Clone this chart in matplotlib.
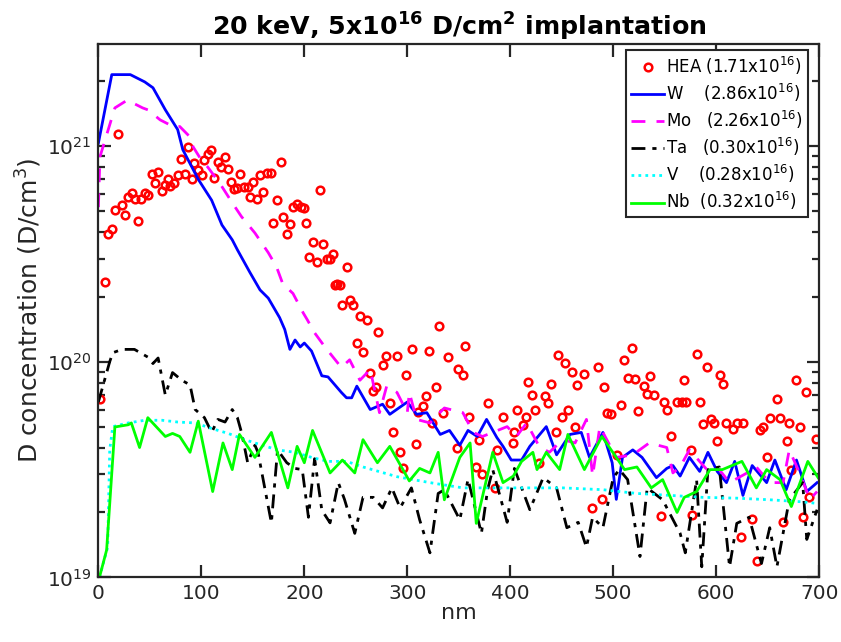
import matplotlib
matplotlib.use("Agg")
import matplotlib.pyplot as plt
from matplotlib.ticker import LogLocator, NullFormatter, FixedLocator

plt.rcParams['font.family'] = ['DejaVu Sans']
plt.rcParams['mathtext.default'] = 'regular'

# ---------------- data ----------------
hea_x = [1.5, 6, 9, 13, 16, 19, 23, 26, 29, 32.5, 35.4, 38, 41, 45, 48, 52, 55, 58, 62, 65,
         67.5, 70, 73, 77, 80, 84, 87, 91, 93, 97, 100.5, 103, 106, 109, 112, 116, 119, 123,
         126, 129, 131.5, 135, 138, 141, 145, 147, 150, 154, 157, 160, 163.5, 167.5, 169.4,
         173, 177, 179, 183, 186, 189, 193, 196.6, 199.5, 202, 205, 208, 212, 215, 218, 222,
         225, 228, 230, 231.5, 234.5, 237, 241, 244, 247, 251, 254, 257, 261, 263.6, 266.5,
         270, 272, 276, 279, 283, 286, 290, 293, 295.6, 298.5, 305, 308, 310, 315, 318, 321,
         324, 328, 331, 334.5, 340, 348, 349, 354, 356, 360, 367, 369.5, 373, 378, 385, 387,
         393, 402.5, 404, 407, 412, 415, 417, 421, 424, 428, 433.5, 437, 440, 444, 446, 450,
         453, 456, 460, 463, 465, 471.5, 479, 485, 489, 491, 494, 497.6, 504, 508, 510, 514,
         518, 521, 524, 530, 532.5, 536, 540, 546, 549, 552, 556, 562, 566.5, 568.5, 571, 576,
         577, 581, 584, 587, 591, 595, 598, 600.5, 604, 607, 610, 616, 620, 624, 626, 634.5,
         640, 643, 645, 649, 652, 659, 662, 665, 669, 671, 673, 678, 681, 684.5, 687, 690,
         696.6]
hea_y = [6.7e19, 2.35e20, 3.9e20, 4.1e20, 5.05e20, 1.14e21, 5.3e20, 4.8e20, 5.8e20, 6.05e20,
         5.7e20, 4.5e20, 5.7e20, 6.05e20, 5.9e20, 7.4e20, 6.7e20, 7.6e20, 6.2e20, 6.6e20,
         7.0e20, 6.5e20, 6.7e20, 7.3e20, 8.7e20, 7.4e20, 9.9e20, 7.0e20, 8.3e20, 7.7e20,
         7.3e20, 8.6e20, 9.2e20, 9.6e20, 7.1e20, 8.4e20, 8.0e20, 8.9e20, 7.8e20, 6.8e20,
         6.3e20, 6.4e20, 7.4e20, 6.45e20, 6.45e20, 5.8e20, 6.8e20, 5.7e20, 7.3e20, 6.1e20,
         7.5e20, 7.5e20, 4.4e20, 5.6e20, 8.4e20, 4.7e20, 3.9e20, 4.35e20, 5.2e20, 5.4e20,
         5.2e20, 5.15e20, 4.4e20, 3.05e20, 3.6e20, 2.9e20, 6.25e20, 3.5e20, 3.0e20, 3.0e20,
         3.15e20, 2.27e20, 2.3e20, 2.27e20, 1.83e20, 2.75e20, 1.94e20, 1.83e20, 1.22e20,
         1.63e20, 1.11e20, 1.56e20, 8.9e19, 7.3e19, 7.6e19, 1.37e20, 9.7e19, 1.06e20, 6.4e19,
         4.7e19, 1.06e20, 3.8e19, 3.2e19, 8.7e19, 1.15e20, 4.15e19, 5.85e19, 6.2e19, 6.9e19,
         1.12e20, 5.2e19, 7.6e19, 1.47e20, 5.8e19, 1.05e20, 4.0e19, 9.25e19, 8.7e19, 1.18e20,
         5.55e19, 3.25e19, 4.35e19, 3.0e19, 6.4e19, 2.6e19, 3.9e19, 5.55e19, 4.2e19, 4.7e19,
         6.0e19, 5.1e19, 5.55e19, 8.05e19, 7.0e19, 6.0e19, 3.4e19, 6.9e19, 6.4e19, 7.9e19,
         4.7e19, 1.07e20, 5.55e19, 9.9e19, 6.0e19, 9.0e19, 5.0e19, 7.8e19, 8.8e19, 2.1e19,
         9.4e19, 2.3e19, 7.6e19, 5.8e19, 5.7e19, 3.7e19, 6.3e19, 1.02e20, 8.4e19, 1.16e20,
         8.3e19, 5.9e19, 7.7e19, 7.1e19, 8.6e19, 7.0e19, 1.93e19, 6.5e19, 6.0e19, 4.5e19,
         6.5e19, 6.5e19, 8.2e19, 6.5e19, 3.9e19, 1.95e19, 1.09e20, 6.5e19, 5.15e19, 9.45e19,
         5.4e19, 5.2e19, 4.3e19, 8.7e19, 7.9e19, 5.2e19, 4.9e19, 5.2e19, 1.54e19, 5.2e19,
         1.86e19, 1.19e19, 4.8e19, 5.0e19, 3.6e19, 5.5e19, 6.7e19, 5.5e19, 1.8e19, 4.3e19,
         5.2e19, 3.15e19, 8.2e19, 5.0e19, 1.9e19, 7.2e19, 2.36e19, 4.4e19]

w_x = [0, 13, 31, 45, 53, 65, 77, 82, 97, 110, 120, 130, 135, 147, 157, 165, 176, 181, 186,
       191, 196, 200, 207, 217, 223, 236, 241, 246, 251, 264, 276, 283, 300, 309, 319, 332,
       341, 351, 359, 368, 377, 387, 393, 401, 411, 419, 435, 445, 458, 469, 477, 490, 499,
       503, 509, 519, 528, 542, 552, 558, 565, 574, 584, 592, 601, 610, 618, 626, 635, 649,
       657, 668, 678, 688, 698]
w_y = [1.03e21, 2.14e21, 2.14e21, 1.98e21, 1.86e21, 1.47e21, 1.19e21, 9.6e20, 7.0e20, 5.6e20,
       4.3e20, 3.67e20, 3.3e20, 2.6e20, 2.15e20, 1.97e20, 1.6e20, 1.41e20, 1.14e20, 1.26e20,
       1.17e20, 1.22e20, 1.12e20, 8.6e19, 8.5e19, 7.2e19, 6.8e19, 6.8e19, 7.7e19, 6.0e19,
       6.35e19, 5.7e19, 6.5e19, 5.7e19, 5.8e19, 4.6e19, 4.8e19, 4.1e19, 4.8e19, 4.5e19,
       5.4e19, 4.45e19, 4.05e19, 3.5e19, 3.5e19, 4.05e19, 5.0e19, 3.7e19, 4.6e19, 4.7e19,
       3.6e19, 4.7e19, 3.4e19, 2.3e19, 3.6e19, 3.9e19, 3.6e19, 2.9e19, 3.2e19, 3.3e19,
       2.95e19, 3.6e19, 3.1e19, 3.8e19, 3.1e19, 2.75e19, 3.45e19, 2.4e19, 3.3e19, 2.75e19,
       3.5e19, 2.55e19, 3.5e19, 2.5e19, 2.75e19]

mo_x = [0, 1.5, 16, 28, 43, 48, 60, 74, 79, 89, 92, 100, 106, 118, 130, 139, 152, 165, 173,
        179, 189, 199, 203, 210, 220, 230, 236, 244, 254, 264, 273, 280, 290, 300, 302, 309,
        322, 336, 354, 364, 373, 397, 406, 416, 428, 438, 451, 463, 474, 480, 487, 503, 519,
        535, 552, 558, 565, 574, 591, 603, 613, 630, 639, 652, 665, 671, 681, 691, 698]
mo_y = [5.2e20, 8.9e20, 1.5e21, 1.63e21, 1.5e21, 1.47e21, 1.32e21, 1.22e21, 1.23e21, 1.1e21,
        9.9e20, 8.6e20, 8.0e20, 6.7e20, 5.45e20, 4.7e20, 3.95e20, 3.2e20, 2.75e20, 2.3e20,
        2.07e20, 1.68e20, 1.56e20, 1.36e20, 1.17e20, 1.02e20, 9.4e19, 1.02e20, 8.2e19, 9.2e19,
        5.8e19, 7.7e19, 7.2e19, 5.8e19, 7.2e19, 5.4e19, 5.2e19, 6.1e19, 5.8e19, 4.7e19, 4.5e19,
        5.0e19, 4.5e19, 5.2e19, 4.05e19, 3.8e19, 4.35e19, 4.2e19, 5.4e19, 2.95e19, 5.0e19,
        3.6e19, 3.7e19, 4.2e19, 4.0e19, 3.05e19, 3.25e19, 3.9e19, 3.16e19, 3.16e19, 2.75e19,
        3.05e19, 3.25e19, 2.75e19, 2.75e19, 3.9e19, 3.05e19, 2.3e19, 2.5e19]

ta_x = [0, 11, 14, 23, 35, 48, 53, 58, 65, 72, 81, 89, 94, 103, 110, 116, 123, 130, 135, 139,
        145, 152, 155, 168, 174, 183, 191, 198, 204, 210, 217, 225, 233, 239, 249, 257, 267,
        276, 285, 293, 304, 312, 322, 330, 336, 351, 359, 372, 378, 383, 397, 404, 419, 432,
        445, 455, 466, 474, 480, 490, 500, 506, 514, 526, 533, 548, 565, 570, 581, 586, 592,
        603, 613, 620, 632, 644, 652, 659, 671, 684, 688, 698]
ta_y = [6.5e19, 1.0e20, 1.1e20, 1.14e20, 1.14e20, 1.05e20, 9.8e19, 1.04e20, 7.0e19, 8.9e19,
        8.2e19, 7.8e19, 6.0e19, 5.5e19, 4.7e19, 5.4e19, 5.25e19, 6.0e19, 5.5e19, 4.7e19,
        3.4e19, 4.1e19, 3.8e19, 1.79e19, 3.9e19, 3.4e19, 3.2e19, 3.16e19, 1.9e19, 3.55e19,
        2.05e19, 1.79e19, 2.75e19, 2.3e19, 1.6e19, 2.35e19, 2.35e19, 2.1e19, 2.6e19, 2.1e19,
        2.6e19, 1.85e19, 1.3e19, 2.45e19, 2.55e19, 1.85e19, 2.85e19, 1.6e19, 2.55e19, 3.16e19,
        1.8e19, 3.2e19, 2.06e19, 2.9e19, 2.6e19, 1.7e19, 1.8e19, 1.38e19, 1.9e19, 1.7e19,
        2.9e19, 3.16e19, 2.84e19, 1.25e19, 2.6e19, 2.29e19, 1.6e19, 1.3e19, 2.84e19, 1.12e19,
        3.16e19, 3.25e19, 1.12e19, 1.78e19, 1.9e19, 1.16e19, 1.7e19, 1.12e19, 2.29e19,
        2.75e19, 1.5e19, 2.06e19]

v_x = [1, 9, 11, 14, 29, 45, 62, 77, 94, 110, 126, 142, 159, 174, 191, 207, 223, 241, 257,
       290, 322, 354, 387, 419, 451, 490, 523, 555, 587, 620, 652, 684, 699]
v_y = [1.0e19, 1.38e19, 3.9e19, 5.0e19, 5.2e19, 5.35e19, 5.35e19, 5.25e19, 5.2e19, 4.9e19,
       4.65e19, 4.35e19, 4.1e19, 3.9e19, 3.8e19, 3.6e19, 3.45e19, 3.45e19, 3.25e19, 2.93e19,
       2.75e19, 2.6e19, 2.6e19, 2.6e19, 2.6e19, 2.55e19, 2.45e19, 2.4e19, 2.35e19, 2.33e19,
       2.29e19, 2.24e19, 2.2e19]

nb_x = [1, 8, 16, 29, 32, 40, 48, 65, 72, 79, 89, 97, 111, 121, 130, 137, 152, 168, 184, 193,
        200, 208, 225, 237, 249, 257, 271, 283, 302, 312, 322, 330, 336, 351, 361, 367, 383,
        393, 403, 411, 422, 426, 435, 448, 456, 472, 489, 503, 511, 523, 537, 548, 562, 569,
        581, 594, 606, 625, 639, 649, 662, 673, 689, 699]
nb_y = [1.0e19, 1.34e19, 4.98e19, 5.1e19, 5.2e19, 4.0e19, 5.5e19, 4.5e19, 4.65e19, 4.5e19,
        3.8e19, 5.3e19, 2.5e19, 4.2e19, 3.16e19, 4.6e19, 3.6e19, 4.7e19, 2.6e19, 4.05e19,
        3.4e19, 4.8e19, 3.05e19, 3.5e19, 3.05e19, 4.35e19, 3.4e19, 4.05e19, 2.8e19, 3.2e19,
        3.05e19, 3.8e19, 2.29e19, 3.6e19, 4.2e19, 1.78e19, 3.8e19, 2.75e19, 2.95e19, 3.45e19,
        3.8e19, 3.16e19, 3.8e19, 3.16e19, 4.6e19, 3.16e19, 4.5e19, 3.6e19, 3.16e19, 3.25e19,
        2.6e19, 2.84e19, 2.0e19, 2.35e19, 2.5e19, 3.16e19, 3.16e19, 3.45e19, 2.6e19, 3.16e19,
        2.84e19, 2.13e19, 3.45e19, 2.9e19]

labels = ['HEA (1.71x10$^{16}$)', 'W    (2.86x10$^{16}$)', 'Mo   (2.26x10$^{16}$)',
          'Ta   (0.30x10$^{16}$)', 'V    (0.28x10$^{16}$)', 'Nb  (0.32x10$^{16}$)']
x_ticks = [0, 100, 200, 300, 400, 500, 600, 700]

# ---------------- figure ----------------
dark = '#262626'
fig = plt.figure(figsize=(8.41, 6.42), dpi=100)
ax = fig.add_axes([0.117, 0.1006, 0.857, 0.831])

ax.plot(hea_x, hea_y, linestyle='none', marker='o', markersize=5.5, markerfacecolor='none',
        markeredgecolor='red', markeredgewidth=1.8, label=labels[0])
ax.plot(w_x, w_y, color='blue', lw=2.0, label=labels[1])
ax.plot(mo_x, mo_y, color='magenta', lw=2.0, linestyle=(0, (5, 4)), label=labels[2])
ax.plot(ta_x, ta_y, color='black', lw=2.0, linestyle=(0, (5, 2.5, 1.5, 2.5)), label=labels[3])
ax.plot(v_x, v_y, color='cyan', lw=2.0, linestyle=(0, (1, 1.5)), label=labels[4])
ax.plot(nb_x, nb_y, color='#00ff00', lw=2.0, label=labels[5])

ax.set_yscale('log')
ax.set_xlim(0, 700)
ax.set_ylim(1e19, 2.97e21)
ax.xaxis.set_major_locator(FixedLocator(x_ticks))
ax.yaxis.set_major_locator(LogLocator(base=10, numticks=10))
ax.yaxis.set_minor_locator(LogLocator(base=10, subs=range(2, 10), numticks=20))
ax.yaxis.set_minor_formatter(NullFormatter())

for s in ax.spines.values():
    s.set_linewidth(1.6)
    s.set_color(dark)
ax.tick_params(which='both', direction='in', top=True, right=True, colors=dark,
               labelsize=14.5, width=1.6)
ax.tick_params(which='major', length=9, pad=5)
ax.tick_params(which='minor', length=5)

ax.set_title('20 keV, 5x10$^{16}$ D/cm$^2$ implantation', fontsize=18.2, fontweight='bold',
             color='black', pad=6)
ax.set_xlabel('nm', fontsize=16, color=dark, labelpad=0)
ax.set_ylabel('D concentration (D/cm$^3$)', fontsize=18, color=dark, labelpad=2)

leg = ax.legend(loc='upper right', bbox_to_anchor=(0.984, 0.989), fontsize=12,
                frameon=True, fancybox=False, framealpha=1, edgecolor=dark,
                handlelength=2.0, handletextpad=0.1, borderpad=0.3,
                labelspacing=0.3, borderaxespad=0)
leg.get_frame().set_linewidth(1.5)

fig.savefig('out.png', dpi=100)
